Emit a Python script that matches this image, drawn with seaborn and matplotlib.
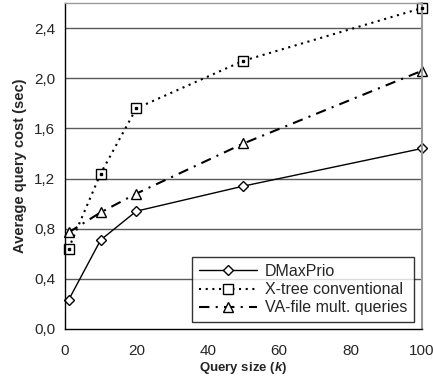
import numpy as np
import pandas as pd
import matplotlib
matplotlib.use("Agg")
import matplotlib.pyplot as plt
import seaborn as sns

# query sizes and average query cost (sec)
query_size = [1, 10, 20, 50, 100]
dmaxprio = [0.23, 0.71, 0.94, 1.14, 1.44]
xtree = [0.64, 1.24, 1.76, 2.14, 2.56]
vafile = [0.77, 0.93, 1.08, 1.48, 2.06]

y_ticks = [0.0, 0.4, 0.8, 1.2, 1.6, 2.0, 2.4]
y_tick_labels = ["0,0", "0,4", "0,8", "1,2", "1,6", "2,0", "2,4"]
x_ticks = [0, 20, 40, 60, 80, 100]

sns.set_style("white")
plt.rcParams['font.family'] = ['Liberation Sans', 'DejaVu Sans']
plt.rcParams['mathtext.fontset'] = 'custom'
plt.rcParams['mathtext.it'] = 'Liberation Sans:italic:bold'

fig = plt.figure(figsize=(4.33, 3.81), dpi=100)
ax = fig.add_axes([0.150, 0.1365, 0.8246, 0.8555])

for y in y_ticks[1:]:
    ax.axhline(y, color="#5a5a5a", lw=1.0, zorder=0)

sns.lineplot(x=query_size, y=dmaxprio, ax=ax, color="black", lw=1.0,
             marker="D", markersize=5.5, markerfacecolor="white",
             markeredgecolor="black", markeredgewidth=1.0, label="DMaxPrio",
             clip_on=False)
sns.lineplot(x=query_size, y=xtree, ax=ax, color="black", lw=1.5,
             linestyle=(0, (1, 2.2)), marker="s", markersize=6.5,
             markerfacecolor="white", markeredgecolor="black",
             markeredgewidth=1.0, label="X-tree conventional", clip_on=False)
sns.lineplot(x=query_size, y=vafile, ax=ax, color="black", lw=1.5,
             linestyle=(0, (5, 3, 1, 3)), marker="^", markersize=7,
             markerfacecolor="white", markeredgecolor="black",
             markeredgewidth=1.0, label="VA-file mult. queries", clip_on=False)
# small dot inside the square markers
ax.plot(query_size, xtree, linestyle="none", marker="s", markersize=1.5,
        color="black", clip_on=False, zorder=5)

ax.set_xlim(0, 100)
ax.set_ylim(0, 2.6)
ax.set_xticks(x_ticks)
ax.set_yticks(y_ticks)
ax.set_yticklabels(y_tick_labels)
ax.tick_params(axis="both", direction="out", length=4, width=1,
               labelsize=11, color="black", pad=3)
ax.tick_params(axis="x", pad=7)

for side in ["left", "bottom"]:
    ax.spines[side].set_color("black")
    ax.spines[side].set_linewidth(1.0)
for side in ["top", "right"]:
    ax.spines[side].set_color("#9a9a9a")
    ax.spines[side].set_linewidth(1.5)
ax.spines["top"].set_linewidth(1.0)

ax.set_xlabel("Query size ($\\mathit{k}$)", fontsize=9.5, fontweight="bold", labelpad=1)
ax.set_ylabel("Average query cost (sec)", fontsize=10.5, fontweight="bold", labelpad=5)

leg = ax.legend(loc="lower right", bbox_to_anchor=(0.978, 0.02), fontsize=11.5,
                frameon=True, fancybox=False, edgecolor="black",
                handlelength=3.6, handletextpad=0.5, borderpad=0.45,
                labelspacing=0.2, borderaxespad=0)
leg.get_frame().set_linewidth(1.0)

fig.savefig("out.png", dpi=100)
